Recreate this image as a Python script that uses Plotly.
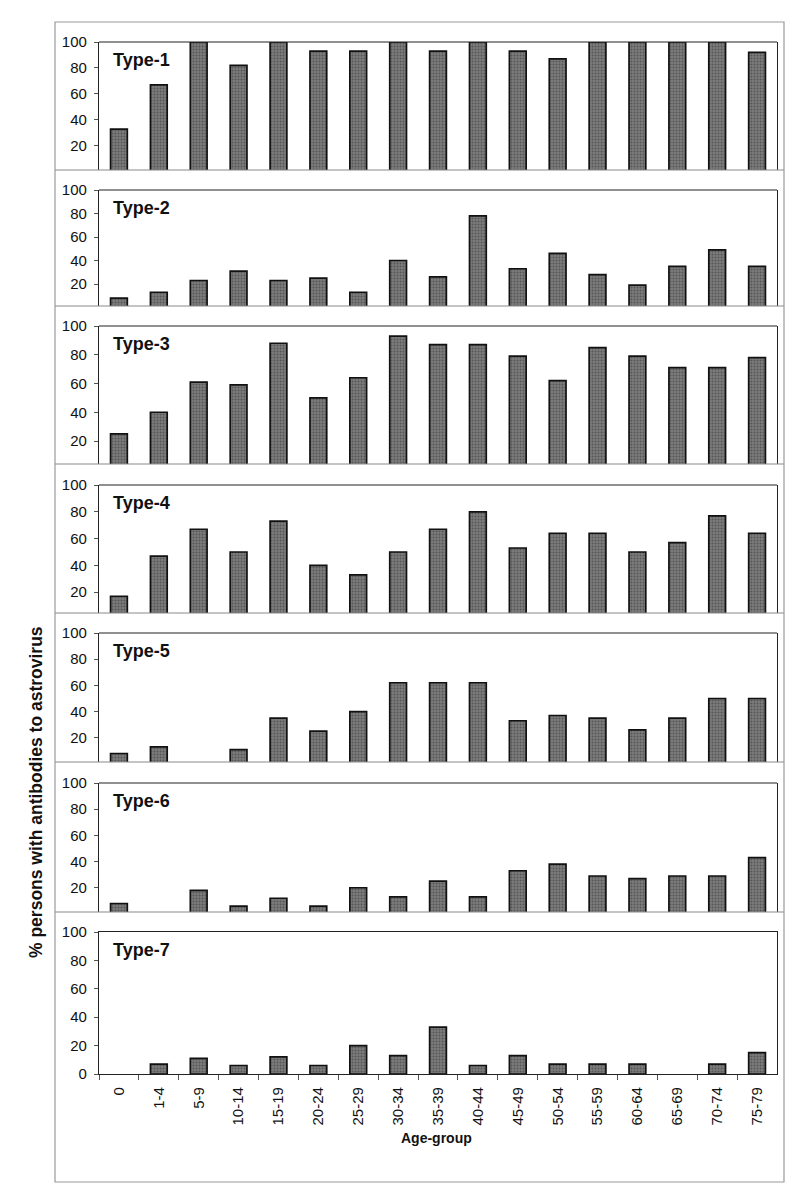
import plotly.graph_objects as go

W, H = 800, 1194
OFF = 8  # page body margin of the browser

age_groups = ["0", "1-4", "5-9", "10-14", "15-19", "20-24", "25-29", "30-34", "35-39",
              "40-44", "45-49", "50-54", "55-59", "60-64", "65-69", "70-74", "75-79"]

type_names = ["Type-1", "Type-2", "Type-3", "Type-4", "Type-5", "Type-6", "Type-7"]

type1 = [33, 67, 100, 82, 100, 93, 93, 100, 93, 100, 93, 87, 100, 100, 100, 100, 92]
type2 = [8, 13, 23, 31, 23, 25, 13, 40, 26, 78, 33, 46, 28, 19, 35, 49, 35]
type3 = [25, 40, 61, 59, 88, 50, 64, 93, 87, 87, 79, 62, 85, 79, 71, 71, 78]
type4 = [17, 47, 67, 50, 73, 40, 33, 50, 67, 80, 53, 64, 64, 50, 57, 77, 64]
type5 = [8, 13, 0, 11, 35, 25, 40, 62, 62, 62, 33, 37, 35, 26, 35, 50, 50]
type6 = [8, 0, 18, 6, 12, 6, 20, 13, 25, 13, 33, 38, 29, 27, 29, 29, 43]
type7 = [0, 7, 11, 6, 12, 6, 20, 13, 33, 6, 13, 7, 7, 7, 0, 7, 15]

series = [type1, type2, type3, type4, type5, type6, type7]

y_tick_vals = [20, 40, 60, 80, 100]
y_tick_vals_last = [0, 20, 40, 60, 80, 100]

# ---- layout geometry (pixels in the screenshot) ----
panel_tops = [42, 190, 326, 485, 633, 783, 932]
panel_bottoms = [170, 306, 464, 613, 762, 912, 1074]
y_floor = [1.5, 1.3, 4.0, 4.5, 1.5, 1.5, 0]
x_left, x_right = 99, 777
frame_l, frame_t, frame_r, frame_b = 55, 22, 784, 1182
separators = [170, 306, 464, 613, 762, 912]

FONT = "Liberation Sans, Arial, sans-serif"

FW, FH = W - OFF, H - OFF


def px(x):
    return (x - OFF) / FW


def py(y):
    return 1 - (y - OFF) / FH


fig = go.Figure()
layout_axes = {}
shapes = []
annotations = []
n = len(series)
for i, (name, vals) in enumerate(zip(type_names, series)):
    sfx = "" if i == 0 else str(i + 1)
    last = i == n - 1
    fig.add_trace(go.Bar(
        x=age_groups, y=vals,
        xaxis="x" + sfx, yaxis="y" + sfx,
        width=0.42,
        marker=dict(color="#7c7c7c",
                    line=dict(color="#111111",
                              width=[0 if v == 0 else 1.7 for v in vals]),
                    pattern=dict(shape=".", fgcolor="#2e2e2e", size=3,
                                 solidity=0.35, fillmode="overlay")),
        showlegend=False, hoverinfo="x+y",
    ))
    xa = dict(
        domain=[px(x_left), px(x_right)],
        anchor="y" + sfx,
        type="category",
        range=[-0.5, len(age_groups) - 0.5],
        showgrid=False, zeroline=False, fixedrange=True,
        automargin=False,
    )
    if last:
        xa.update(showline=True, mirror=True, linecolor="#222222", linewidth=1.2,
                  ticks="outside", tickson="boundaries", ticklen=5,
                  tickcolor="#555555", tickwidth=1,
                  tickangle=-90, showticklabels=True,
                  tickfont=dict(family=FONT, size=15, color="#111111"),
                  ticklabelstandoff=6)
    else:
        xa.update(showline=False, ticks="", showticklabels=False)
    ya = dict(
        domain=[py(panel_bottoms[i]), py(panel_tops[i])],
        anchor="x" + sfx,
        range=[y_floor[i], 100],
        tickvals=y_tick_vals_last if last else y_tick_vals,
        ticks="outside", ticklen=4, tickcolor="#555555", tickwidth=1,
        showline=True, mirror=True, linecolor="#222222", linewidth=1.2,
        showgrid=False, zeroline=False, fixedrange=True,
        tickfont=dict(family=FONT, size=15, color="#111111"),
        ticklabelstandoff=4,
        automargin=False,
    )
    layout_axes["xaxis" + sfx] = xa
    layout_axes["yaxis" + sfx] = ya

    if not last:
        shapes.append(dict(type="line", xref="paper", yref="paper",
                           x0=px(x_left), x1=px(x_right),
                           y0=py(panel_tops[i]), y1=py(panel_tops[i]),
                           line=dict(color="#222222", width=1.2)))

    annotations.append(dict(
        text="<b>" + name + "</b>", xref="paper", yref="paper",
        x=px(111), y=py(panel_tops[i] + 18), xanchor="left", yanchor="middle",
        showarrow=False, font=dict(family=FONT, size=18, color="#111111"),
    ))

for s in separators:
    shapes.append(dict(type="line", xref="paper", yref="paper",
                       x0=px(frame_l), x1=px(frame_r), y0=py(s), y1=py(s),
                       line=dict(color="#8a8a8a", width=1.2)))

shapes.append(dict(type="rect", xref="paper", yref="paper",
                   x0=px(frame_l), x1=px(frame_r), y0=py(frame_b), y1=py(frame_t),
                   line=dict(color="#9a9a9a", width=1.2), fillcolor="rgba(0,0,0,0)"))

annotations.append(dict(
    text="<b>Age-group</b>", xref="paper", yref="paper",
    x=px(436), y=py(1138), xanchor="center", yanchor="middle",
    showarrow=False, font=dict(family=FONT, size=14, color="#111111"),
))
annotations.append(dict(
    text="<b>% persons with antibodies to astrovirus</b>", xref="paper", yref="paper",
    x=px(36), y=py(792), xanchor="center", yanchor="middle", textangle=-90,
    showarrow=False, font=dict(family=FONT, size=17.5, color="#111111"),
))

fig.update_layout(
    width=FW, height=FH, autosize=False,
    margin=dict(l=0, r=0, t=0, b=0),
    paper_bgcolor="white", plot_bgcolor="white",
    bargap=0.58,
    shapes=shapes, annotations=annotations,
    font=dict(family=FONT),
    **layout_axes,
)

fig.write_html("out.html")
